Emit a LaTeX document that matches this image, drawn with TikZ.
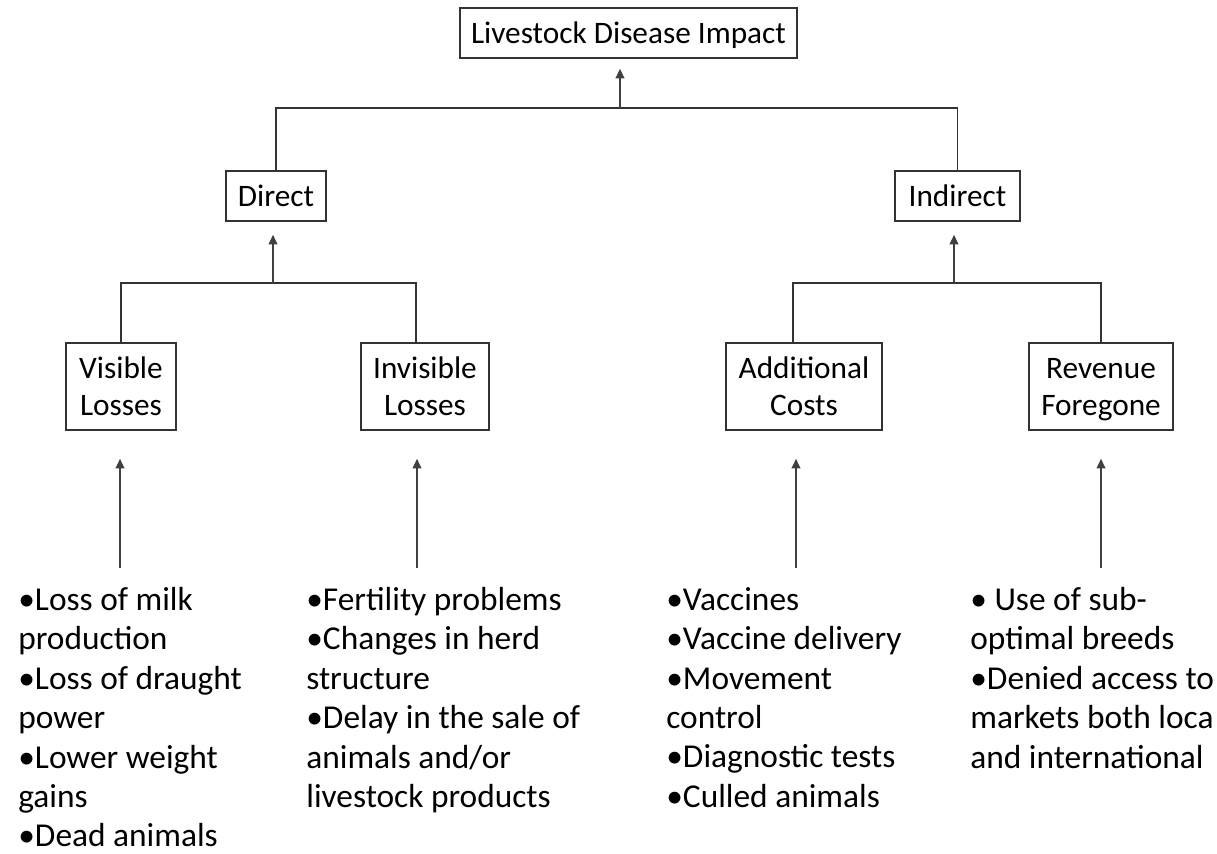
\documentclass[tikz,border=0pt]{standalone}
\usepackage{fontspec}
\setmainfont{Carlito}
\usetikzlibrary{arrows.meta}

\begin{document}
\begin{tikzpicture}[
  box/.style={rectangle,draw=black!80,line width=0.9pt,inner xsep=0.22cm,align=center,text depth=0.12cm,font=\fontsize{17.8}{21}\selectfont},
  onebox/.style={box,minimum height=1.0cm,text height=0.54cm},
  twobox/.style={box,minimum height=1.74cm,text height=1.28cm},
  list/.style={anchor=north west,align=left,inner sep=0pt,font=\fontsize{19}{22.4}\selectfont},
  link/.style={line width=0.9pt,draw=black!80},
  arr/.style={-{Triangle[length=5.5pt,width=5pt]},line width=0.9pt,draw=black!75}
]
  \useasboundingbox (0,0) rectangle (24.34,-17.06);
  \node[onebox,minimum width=6.7cm](top) at (12.57,-0.66) {Livestock Disease Impact};
  \node[onebox,minimum width=2.0cm](dir) at (5.52,-3.92)  {Direct};
  \node[onebox,minimum width=2.5cm](ind) at (19.15,-3.92) {Indirect};
  \node[twobox,minimum width=2.2cm](vis) at (2.42,-7.73)  {Visible\\Losses};
  \node[twobox,minimum width=2.56cm](inv)at (8.5,-7.73)   {Invisible\\Losses};
  \node[twobox,minimum width=3.12cm](add)at (16.08,-7.73) {Additional\\Costs};
  \node[twobox,minimum width=2.88cm](rev)at (22.02,-7.73) {Revenue\\Foregone};
  \node[list](lvis) at (0.36,-11.74) {•Loss of milk\\production\\•Loss of draught\\power\\•Lower weight\\gains\\•Dead animals};
  \node[list](linv) at (6.12,-11.74) {•Fertility problems\\•Changes in herd\\structure\\•Delay in the sale of\\animals and/or\\livestock products};
  \node[list](ladd) at (13.32,-11.74) {•Vaccines\\•Vaccine delivery\\•Movement\\control\\•Diagnostic tests\\•Culled animals};
  \node[list](lrev) at (19.4,-11.74) {• Use of sub-\\optimal breeds\\•Denied access to\\markets both loca\\and international};
  \coordinate (j0) at (12.4,-2.16);
  \coordinate (j1) at (5.46,-5.66);
  \coordinate (j2) at (19.08,-5.66);
  \coordinate (vb) at (2.4,-11.36);
  \coordinate (ib) at (8.34,-11.36);
  \coordinate (ab) at (15.92,-11.36);
  \coordinate (rb) at (22.02,-11.36);
  \draw[link](dir.north) |- (j0) -| (ind.north);
  \draw[arr,shorten >=0.2cm](j0) -- (j0 |- top.south);
  \draw[link](vis.north) |- (j1) -| ([xshift=-0.18cm]inv.north);
  \draw[arr,shorten >=0.26cm](j1) -- (j1 |- dir.south);
  \draw[link]([xshift=-0.22cm]add.north) |- (j2) -| (rev.north);
  \draw[arr,shorten >=0.26cm](j2) -- (j2 |- ind.south);
  \draw[arr,shorten >=0.56cm](vb) -- (vb |- vis.south);
  \draw[arr,shorten >=0.56cm](ib) -- (ib |- inv.south);
  \draw[arr,shorten >=0.56cm](ab) -- (ab |- add.south);
  \draw[arr,shorten >=0.56cm](rb) -- (rb |- rev.south);
\end{tikzpicture}
\end{document}
